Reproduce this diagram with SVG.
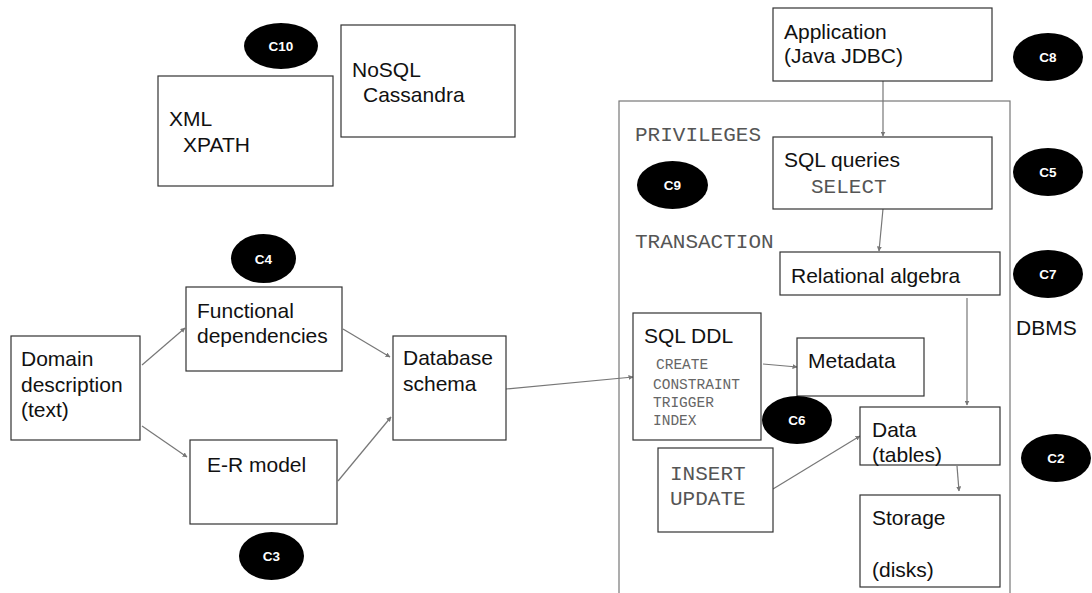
<svg xmlns="http://www.w3.org/2000/svg" width="1092" height="593" viewBox="0 0 1092 593">
  <style>
    .box { fill: #ffffff; stroke: #333333; stroke-width: 1.2; }
    .frame { fill: none; stroke: #777777; stroke-width: 1.2; }
    .t { font-family: "Liberation Sans", Arial, sans-serif; font-size: 21px; fill: #111111; }
    .mono { font-family: "Liberation Mono", "Courier New", monospace; font-size: 21px; fill: #555555; }
    .mono-s { font-family: "Liberation Mono", "Courier New", monospace; font-size: 14.5px; fill: #666666; }
    .badge { fill: #000000; }
    .badge-t { font-family: "Liberation Sans", Arial, sans-serif; font-size: 13.5px; font-weight: bold; fill: #ffffff; text-anchor: middle; }
    .conn { fill: none; stroke: #777777; stroke-width: 1.2; marker-end: url(#arrow); }
  </style>
  <defs>
    <marker id="arrow" viewBox="0 0 10 10" refX="9" refY="5" markerWidth="5" markerHeight="5" orient="auto" markerUnits="userSpaceOnUse">
      <path d="M0,0 L10,5 L0,10 z" fill="#777777"/>
    </marker>
  </defs>
  <rect width="1092" height="593" fill="#ffffff"/>

  <!-- DBMS enclosure -->
  <g id="dbms">
    <rect class="frame" x="619" y="101" width="391" height="520"/>
    <text class="t" x="1016" y="335">DBMS</text>
    <text class="mono" x="635" y="141">PRIVILEGES</text>
    <text class="mono" x="635" y="248">TRANSACTION</text>
  </g>

  <!-- Connectors -->
  <g id="connectors">
    <line class="conn" x1="142" y1="365" x2="185" y2="328"/>
    <line class="conn" x1="142" y1="426" x2="187" y2="457"/>
    <line class="conn" x1="343" y1="329" x2="390" y2="357"/>
    <line class="conn" x1="338" y1="481" x2="391" y2="417"/>
    <line class="conn" x1="506" y1="389" x2="633" y2="377"/>
    <line class="conn" x1="883" y1="81" x2="883" y2="136"/>
    <line class="conn" x1="883" y1="209" x2="879" y2="251"/>
    <line class="conn" x1="967" y1="298" x2="967" y2="405"/>
    <line class="conn" x1="763" y1="364" x2="797" y2="367"/>
    <line class="conn" x1="773" y1="489" x2="860" y2="436"/>
    <line class="conn" x1="957" y1="466" x2="959" y2="491"/>
  </g>

  <!-- Nodes -->
  <g id="xml">
    <rect class="box" x="158" y="76" width="175" height="110"/>
    <text class="t" x="169" y="126">XML</text>
    <text class="t" x="183" y="152">XPATH</text>
  </g>
  <g id="nosql">
    <rect class="box" x="341" y="25" width="174" height="112"/>
    <text class="t" x="352" y="77">NoSQL</text>
    <text class="t" x="363" y="102">Cassandra</text>
  </g>
  <g id="domain">
    <rect class="box" x="11" y="336" width="129" height="104"/>
    <text class="t" x="21" y="366">Domain</text>
    <text class="t" x="21" y="392">description</text>
    <text class="t" x="21" y="417">(text)</text>
  </g>
  <g id="functional">
    <rect class="box" x="186" y="287" width="156" height="84"/>
    <text class="t" x="197" y="318">Functional</text>
    <text class="t" x="197" y="343">dependencies</text>
  </g>
  <g id="er-model">
    <rect class="box" x="190" y="440" width="147" height="84"/>
    <text class="t" x="207" y="472">E-R model</text>
  </g>
  <g id="database-schema">
    <rect class="box" x="393" y="336" width="113" height="104"/>
    <text class="t" x="403" y="365">Database</text>
    <text class="t" x="403" y="391">schema</text>
  </g>
  <g id="application">
    <rect class="box" x="773" y="8" width="219" height="73"/>
    <text class="t" x="784" y="39">Application</text>
    <text class="t" x="784" y="63">(Java JDBC)</text>
  </g>
  <g id="sql-queries">
    <rect class="box" x="773" y="137" width="219" height="72"/>
    <text class="t" x="784" y="167">SQL queries</text>
    <text class="mono" x="811" y="193">SELECT</text>
  </g>
  <g id="relational-algebra">
    <rect class="box" x="780" y="252" width="220" height="43"/>
    <text class="t" x="791" y="283">Relational algebra</text>
  </g>
  <g id="sql-ddl">
    <rect class="box" x="633" y="313" width="128" height="127"/>
    <text class="t" x="644" y="343">SQL DDL</text>
    <text class="mono-s" x="656" y="369">CREATE</text>
    <text class="mono-s" x="653" y="389">CONSTRAINT</text>
    <text class="mono-s" x="653" y="407">TRIGGER</text>
    <text class="mono-s" x="653" y="425">INDEX</text>
  </g>
  <g id="metadata">
    <rect class="box" x="797" y="338" width="127" height="58"/>
    <text class="t" x="808" y="368">Metadata</text>
  </g>
  <g id="data">
    <rect class="box" x="860" y="407" width="140" height="58"/>
    <text class="t" x="872" y="437">Data</text>
    <text class="t" x="872" y="462">(tables)</text>
  </g>
  <g id="insert-update">
    <rect class="box" x="658" y="448" width="115" height="84"/>
    <text class="mono" x="670" y="480">INSERT</text>
    <text class="mono" x="670" y="505">UPDATE</text>
  </g>
  <g id="storage">
    <rect class="box" x="860" y="495" width="140" height="92"/>
    <text class="t" x="872" y="525">Storage</text>
    <text class="t" x="872" y="577">(disks)</text>
  </g>

  <!-- Chapter badges -->
  <g id="c10"><ellipse class="badge" cx="281" cy="46" rx="37" ry="23"/><text class="badge-t" x="281" y="51">C10</text></g>
  <g id="c4"><ellipse class="badge" cx="263.5" cy="258.5" rx="32.5" ry="24.5"/><text class="badge-t" x="263.5" y="263.5">C4</text></g>
  <g id="c3"><ellipse class="badge" cx="271.5" cy="556" rx="32.5" ry="24"/><text class="badge-t" x="271.5" y="561">C3</text></g>
  <g id="c8"><ellipse class="badge" cx="1048" cy="57" rx="35" ry="24"/><text class="badge-t" x="1048" y="62">C8</text></g>
  <g id="c5"><ellipse class="badge" cx="1048" cy="172" rx="35" ry="24"/><text class="badge-t" x="1048" y="177">C5</text></g>
  <g id="c9"><ellipse class="badge" cx="672.5" cy="185" rx="35.5" ry="24"/><text class="badge-t" x="672.5" y="190">C9</text></g>
  <g id="c7"><ellipse class="badge" cx="1048" cy="274" rx="35" ry="24"/><text class="badge-t" x="1048" y="279">C7</text></g>
  <g id="c6"><ellipse class="badge" cx="797" cy="420" rx="35" ry="24"/><text class="badge-t" x="797" y="425">C6</text></g>
  <g id="c2"><ellipse class="badge" cx="1056" cy="458" rx="35" ry="24"/><text class="badge-t" x="1056" y="463">C2</text></g>
</svg>
